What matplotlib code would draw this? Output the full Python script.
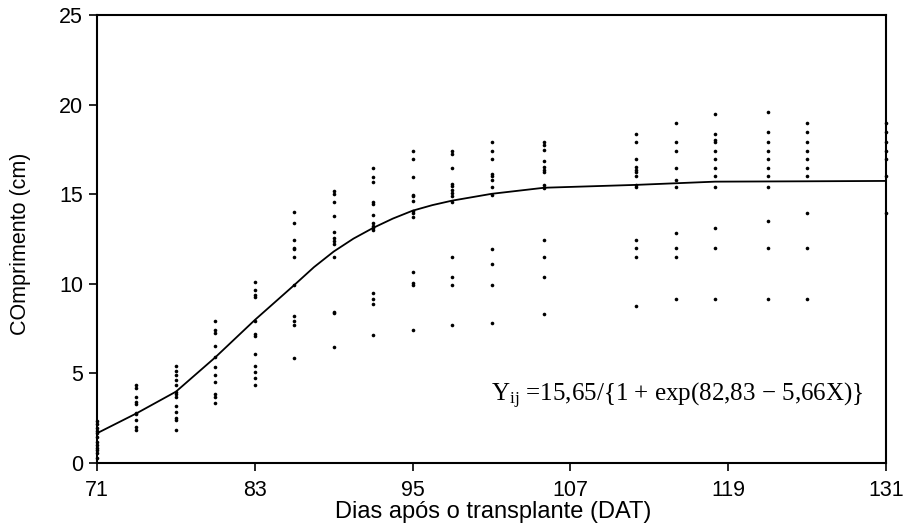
import matplotlib
matplotlib.use("Agg")
import matplotlib.pyplot as plt

plt.rcParams['font.family'] = ['Liberation Sans', 'DejaVu Sans']
plt.rcParams['mathtext.fontset'] = 'custom'
plt.rcParams['mathtext.rm'] = 'Liberation Serif'
plt.rcParams['mathtext.it'] = 'Liberation Serif:italic'

# Observation days (DAT)
days = [71, 74, 77, 80, 83, 86, 89, 92, 95, 98, 101, 105, 112, 115, 118, 122, 125, 131]

# Observed lengths (cm) per day
obs = [
    [2.35, 2.15, 1.95, 1.8, 1.65, 1.45, 1.15, 1.0, 0.85, 0.7, 0.55, 0.3],
    [4.35, 4.20, 3.70, 3.39, 3.29, 2.81, 2.73, 2.40, 2.03, 1.84],
    [5.41, 5.15, 4.91, 4.63, 4.35, 3.98, 3.85, 3.70, 3.18, 2.86, 2.49, 2.40, 1.84],
    [7.92, 7.42, 7.24, 6.55, 5.90, 5.38, 4.91, 4.54, 3.85, 3.66, 3.37],
    [10.12, 9.65, 9.38, 9.28, 7.92, 7.20, 7.11, 6.06, 5.41, 5.10, 4.72, 4.35],
    [13.99, 13.41, 12.44, 11.98, 11.92, 11.48, 9.93, 8.20, 7.94, 7.72, 5.88],
    [15.18, 15.01, 14.55, 13.77, 12.91, 12.54, 12.41, 12.22, 11.48, 8.45, 8.39, 6.46],
    [16.48, 15.98, 15.70, 14.55, 14.45, 13.86, 13.37, 13.23, 13.10, 13.00, 9.47, 9.15, 8.87, 7.14],
    [17.43, 16.95, 15.98, 14.96, 14.90, 14.64, 14.08, 13.93, 13.75, 10.68, 10.03, 9.93, 7.42],
    [17.43, 17.24, 16.48, 15.55, 15.46, 15.23, 15.08, 14.90, 14.58, 11.48, 10.40, 9.93, 7.70],
    [17.91, 17.43, 16.95, 16.13, 16.03, 15.79, 15.42, 14.96, 11.94, 11.09, 9.93, 7.81],
    [17.93, 17.75, 17.47, 16.87, 16.50, 16.35, 16.26, 15.51, 15.36, 12.44, 11.48, 10.40, 8.30],
    [18.34, 17.93, 16.96, 16.50, 16.35, 16.26, 16.02, 15.51, 15.42, 12.44, 11.98, 11.48, 8.76],
    [18.99, 17.93, 17.43, 16.48, 15.79, 15.42, 12.82, 11.98, 11.48, 9.13],
    [19.48, 18.34, 18.02, 17.93, 17.43, 16.96, 16.48, 16.02, 15.42, 13.10, 11.98, 9.13],
    [19.57, 18.49, 17.93, 17.43, 16.96, 16.48, 16.02, 15.42, 13.50, 11.98, 9.13],
    [18.99, 18.49, 17.93, 17.43, 16.96, 16.48, 16.02, 13.97, 11.98, 9.13],
    [18.99, 18.49, 17.93, 17.43, 16.96, 16.02, 13.97],
]

# Fitted curve
curve_x = [71, 74, 77, 80, 83, 86, 87.5, 89, 90.5, 92, 93.5, 95, 96.5, 98, 101, 105, 112, 118, 125, 131]
curve_y = [1.66, 2.77, 3.98, 5.90, 7.98, 9.93, 10.93, 11.80, 12.52, 13.12, 13.64, 14.08, 14.39, 14.64,
           15.02, 15.36, 15.52, 15.70, 15.72, 15.74]

xticks = [71, 83, 95, 107, 119, 131]
yticks = [0, 5, 10, 15, 20, 25]
equation = r'Y$_{\mathrm{ij}}$ =15,65/{1 + exp(82,83 $-$ 5,66X)}'

fig = plt.figure(figsize=(9.05, 5.24), dpi=100)
ax = fig.add_axes([0.1072, 0.1164, 0.9790 - 0.1072, 0.9714 - 0.1164])

xs, ys = [], []
for d, vals in zip(days, obs):
    xs.extend([d] * len(vals))
    ys.extend(vals)
ax.plot(xs, ys, 'o', color='black', markersize=2.6, markeredgewidth=0, clip_on=False, zorder=3)
ax.plot(curve_x, curve_y, '-', color='black', linewidth=1.3, zorder=2)

ax.set_xlim(71, 131)
ax.set_ylim(0, 25)
ax.set_xticks(xticks)
ax.set_yticks(yticks)
ax.tick_params(direction='out', length=6, width=1.2, labelsize=15.5, color='black')
ax.tick_params(axis='x', pad=6)
ax.tick_params(axis='y', pad=4)
for s in ax.spines.values():
    s.set_linewidth(1.5)
    s.set_color('black')

ax.set_xlabel('Dias após o transplante (DAT)', fontsize=17, va='baseline')
ax.set_ylabel('COmprimento (cm)', fontsize=15.5)
ax.xaxis.set_label_coords(0.502, -0.123)
ax.yaxis.set_label_coords(-0.0837, 0.49)

ax.text(115.1, 3.42, equation, ha='center', va='baseline', fontsize=18,
        family='Liberation Serif')

fig.savefig('out.png', dpi=100)
